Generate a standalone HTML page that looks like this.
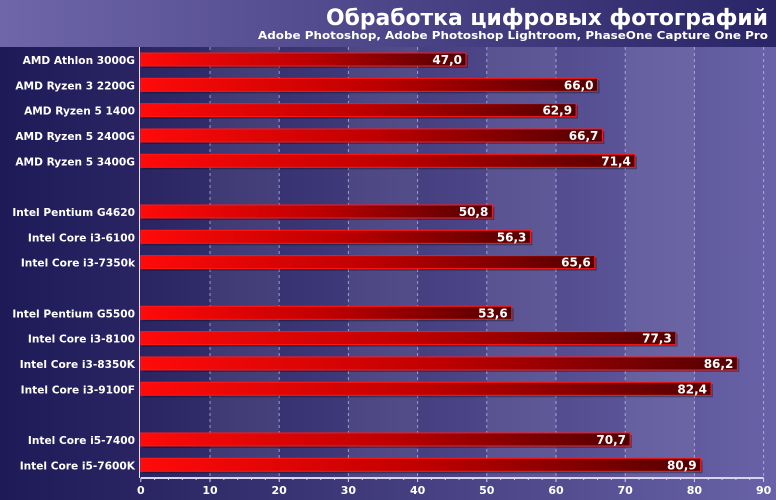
<!DOCTYPE html>
<html><head><meta charset="utf-8">
<style>
html,body{margin:0;padding:0;width:776px;height:500px;overflow:hidden;background:#1e1a58;}
svg{display:block;font-family:"DejaVu Sans","Liberation Sans",sans-serif;}
</style></head>
<body>
<svg id="chart" width="776" height="500" viewBox="0 0 776 500" xmlns="http://www.w3.org/2000/svg">
<defs>
<linearGradient id="hdr" x1="0" x2="1" y1="0" y2="0">
<stop offset="0" stop-color="#6f66aa"/><stop offset="1" stop-color="#2a2566"/></linearGradient>
<linearGradient id="lp" x1="0" x2="1" y1="0" y2="0">
<stop offset="0" stop-color="#1e1a58"/><stop offset="1" stop-color="#2a2562"/></linearGradient>
<linearGradient id="plotbg" x1="0" x2="1" y1="0" y2="0">
<stop offset="0" stop-color="#2a2562"/><stop offset="1" stop-color="#6962a8"/></linearGradient>
<linearGradient id="barg" x1="0" x2="1" y1="0" y2="0">
<stop offset="0" stop-color="#ff0a0a"/><stop offset="0.5" stop-color="#c00000"/><stop offset="1" stop-color="#520000"/></linearGradient>
</defs>
<rect x="0" y="0" width="776" height="47" fill="url(#hdr)"/>
<rect x="0" y="47" width="140" height="453" fill="url(#lp)"/>
<rect x="140" y="47" width="636" height="453" fill="url(#plotbg)"/>
<text x="768" y="25" text-anchor="end" font-size="22" font-weight="bold" fill="#fff" textLength="442" lengthAdjust="spacingAndGlyphs">Обработка цифровых фотографий</text>
<text x="768" y="39" text-anchor="end" font-size="11" font-weight="bold" fill="#fff" textLength="510" lengthAdjust="spacingAndGlyphs">Adobe Photoshop, Adobe Photoshop Lightroom, PhaseOne Capture One Pro</text>
<g id="bands"></g><g id="grid"></g><g id="bars"></g><g id="axis"></g>
</svg>
<script>
const categories=["AMD Athlon 3000G","AMD Ryzen 3 2200G","AMD Ryzen 5 1400","AMD Ryzen 5 2400G","AMD Ryzen 5 3400G","Intel Pentium G4620","Intel Core i3-6100","Intel Core i3-7350k","Intel Pentium G5500","Intel Core i3-8100","Intel Core i3-8350K","Intel Core i3-9100F","Intel Core i5-7400","Intel Core i5-7600K"];
const values=[47.0,66.0,62.9,66.7,71.4,50.8,56.3,65.6,53.6,77.3,86.2,82.4,70.7,80.9];
const slots=[0,1,2,3,4,6,7,8,10,11,12,13,15,16];
const ticks=[0,10,20,30,40,50,60,70,80,90];
const NS="http://www.w3.org/2000/svg";
const x0=140.8,ppu=6.92,yTop=47,yAxis=478;
function xs(v){return x0+v*ppu;}
function ys(s){return 60+s*25.33;}
function mk(t,a,p){const e=document.createElementNS(NS,t);for(const k in a)e.setAttribute(k,a[k]);p.appendChild(e);return e;}
const bands=document.getElementById('bands'),grid=document.getElementById('grid'),bars=document.getElementById('bars'),axis=document.getElementById('axis'),svg=document.getElementById('chart');
for(let i=0;i<ticks.length-1;i++){
 if(i%2===1){const r=mk('rect',{x:xs(ticks[i]),y:yTop,width:xs(ticks[i+1])-xs(ticks[i]),height:yAxis-yTop,fill:'#ffffff','fill-opacity':0.07},bands);
 
 }
}
ticks.forEach((t,i)=>{
 if(i>0){const l=mk('line',{x1:xs(t),x2:xs(t),y1:yTop,y2:yAxis,stroke:'#c8c4e8','stroke-width':1,'stroke-dasharray':'3,3','stroke-opacity':0.7},grid);
 
 }
 const tl=mk('text',{x:xs(t),y:494,'text-anchor':'middle','font-size':11,'font-weight':'bold',fill:'#fff'},axis);tl.textContent=String(t);
 
 
 const tk=mk('line',{x1:xs(t),x2:xs(t),y1:yAxis,y2:yAxis+4,stroke:'#d8d4f0','stroke-width':1},axis);
 
 
 if(i<ticks.length-1){for(let m=1;m<5;m++){const mt=mk('line',{x1:xs(t+m*2),x2:xs(t+m*2),y1:yAxis,y2:yAxis+2,stroke:'#d8d4f0','stroke-width':1},axis);
 
 }}
});
const ax=mk('line',{x1:x0,x2:xs(90),y1:yAxis,y2:yAxis,stroke:'#d8d4f0','stroke-width':2},axis);


const ya=mk('line',{x1:139.5,x2:139.5,y1:yTop,y2:yAxis,stroke:'#e8e6f8','stroke-width':1},axis);


categories.forEach((c,i)=>{
 const cy=ys(slots[i]),w=xs(values[i])-x0;
 const sh=mk('rect',{x:x0+2,y:cy-5,width:w,height:13,fill:'#000','fill-opacity':0.3},bars);
 
 
 const b=mk('rect',{x:x0,y:cy-7,width:w,height:13,fill:'url(#barg)',stroke:'#ff1a1a','stroke-width':1},bars);
 
 
 const vt=mk('text',{x:xs(values[i])-4,y:cy+4,'text-anchor':'end','font-size':12,'font-weight':'bold',fill:'#fff'},bars);
 vt.textContent=values[i].toFixed(1).replace('.',',');
 
 
 const lt=mk('text',{x:135,y:cy+4,'text-anchor':'end','font-size':10.6,'font-weight':'bold',fill:'#fff'},svg);
 lt.textContent=c;
 
 
});
</script>
</body></html>
